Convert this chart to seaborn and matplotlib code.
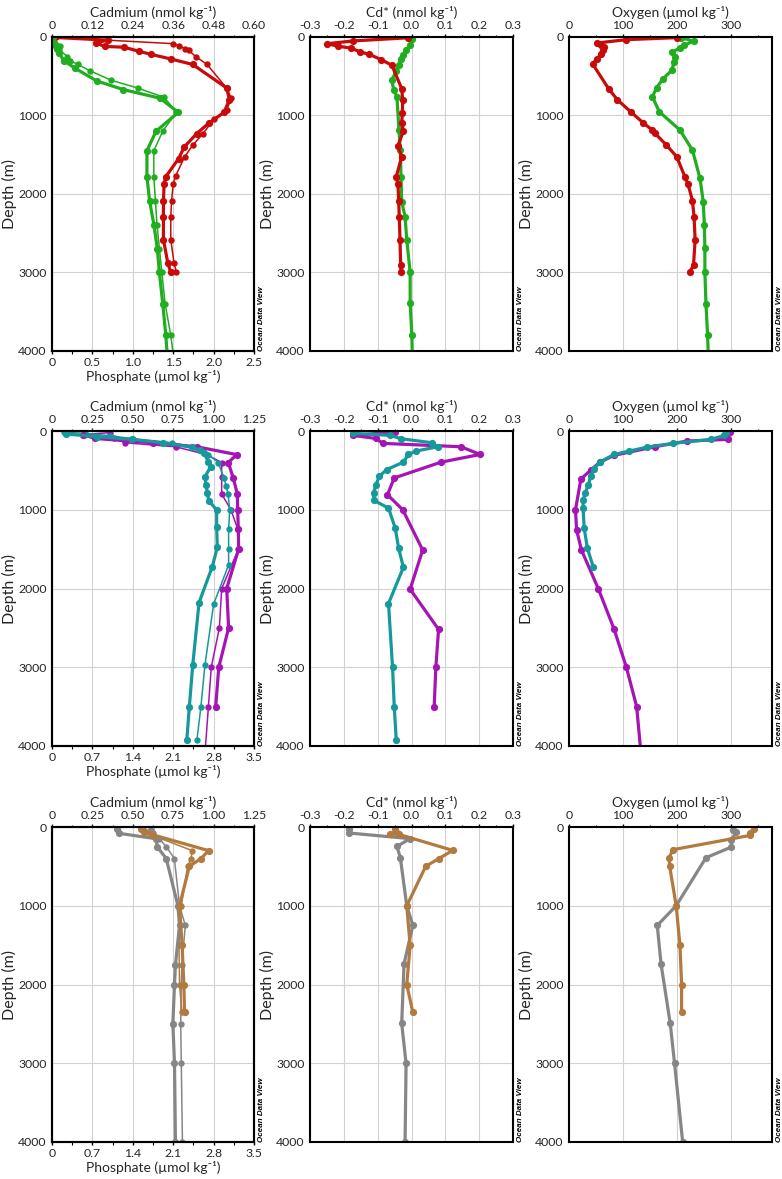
import matplotlib
matplotlib.use("Agg")
import matplotlib.pyplot as plt
import seaborn as sns
from matplotlib.ticker import FixedLocator, MultipleLocator

# ---------------- DATA ----------------
# Row 1 : red and green stations
r1_red_cd_depth = [5, 40, 75, 120, 130, 180, 220, 280, 350, 650, 800, 960, 1100, 1230, 1400, 1550, 1780, 1870, 2090, 2290, 2580, 2880, 3000]
r1_red_cd = [0.005, 0.165, 0.131, 0.156, 0.214, 0.257, 0.293, 0.353, 0.418, 0.519, 0.527, 0.511, 0.465, 0.430, 0.393, 0.376, 0.338, 0.333, 0.331, 0.331, 0.331, 0.344, 0.353]
r1_red_po4_depth = [5, 85, 110, 150, 170, 250, 350, 650, 780, 930, 1050, 1230, 1380, 1530, 1770, 1870, 2090, 2290, 2580, 2880, 3000]
r1_red_po4 = [0.05, 1.50, 1.57, 1.65, 1.69, 1.78, 1.92, 2.16, 2.22, 2.16, 2.00, 1.87, 1.74, 1.64, 1.53, 1.50, 1.48, 1.47, 1.47, 1.51, 1.54]
r1_green_cd_depth = [0, 100, 150, 200, 300, 400, 560, 670, 780, 960, 1200, 1450, 1780, 2090, 2400, 2700, 3000, 3400, 3800, 4200]
r1_green_cd = [0.003, 0.010, 0.015, 0.020, 0.035, 0.069, 0.133, 0.212, 0.321, 0.375, 0.309, 0.282, 0.282, 0.290, 0.303, 0.313, 0.319, 0.329, 0.338, 0.345]
r1_green_po4_depth = [0, 120, 160, 250, 300, 350, 430, 550, 650, 770, 960, 1200, 1450, 1780, 2090, 2400, 2700, 3000, 3400, 3800, 4200]
r1_green_po4 = [0.02, 0.10, 0.09, 0.19, 0.22, 0.32, 0.47, 0.73, 1.06, 1.39, 1.54, 1.37, 1.26, 1.26, 1.28, 1.30, 1.33, 1.36, 1.40, 1.47, 1.52]

r1_red_cdstar_depth = [10, 50, 85, 119, 140, 190, 220, 288, 360, 657, 797, 966, 1093, 1199, 1386, 1525, 1780, 1877, 2085, 2297, 2585, 2903, 3000]
r1_red_cdstar = [-0.010, -0.172, -0.249, -0.216, -0.179, -0.152, -0.125, -0.090, -0.058, -0.029, -0.026, -0.027, -0.029, -0.024, -0.040, -0.029, -0.045, -0.040, -0.038, -0.036, -0.034, -0.032, -0.031]
r1_green_cdstar_depth = [21, 106, 169, 233, 275, 360, 436, 551, 669, 763, 1186, 1441, 1780, 2097, 2288, 2585, 3000, 3390, 3792, 4200]
r1_green_cdstar = [0.001, -0.004, -0.017, -0.024, -0.031, -0.038, -0.046, -0.058, -0.053, -0.043, -0.037, -0.033, -0.031, -0.029, -0.019, -0.014, -0.004, -0.004, 0.001, 0.003]

r1_red_o2_depth = [8, 34, 76, 106, 127, 170, 220, 275, 347, 657, 797, 953, 1093, 1186, 1229, 1377, 1525, 1780, 1877, 2085, 2288, 2585, 2903, 3000]
r1_red_o2 = [200, 106, 52, 60, 64, 62, 60, 51, 44, 73, 89, 114, 137, 154, 159, 180, 199, 214, 220, 228, 231, 233, 230, 223]
r1_green_o2_depth = [8, 51, 106, 140, 191, 250, 318, 424, 530, 644, 763, 953, 1186, 1441, 1801, 2097, 2394, 2691, 3000, 3398, 3792, 4200]
r1_green_o2 = [206, 230, 213, 205, 191, 195, 194, 190, 174, 162, 154, 167, 205, 228, 242, 248, 250, 251, 251, 253, 256, 258]

# Row 2 : teal and magenta stations
r2_teal_cd_depth = [38, 72, 106, 148, 207, 241, 284, 389, 453, 580, 685, 791, 884, 1003, 1223, 1477, 1722, 2179, 2970, 3500, 3930]
r2_teal_cd = [0.086, 0.278, 0.494, 0.686, 0.865, 0.916, 0.941, 0.968, 0.982, 0.947, 0.953, 0.962, 0.970, 1.019, 1.019, 1.023, 0.992, 0.910, 0.871, 0.850, 0.834]
r2_teal_po4_depth = [15, 30, 60, 100, 150, 200, 300, 400, 600, 700, 800, 1000, 1250, 1500, 1700, 2200, 2970, 3500, 3930]
r2_teal_po4 = [0.20, 0.58, 1.01, 1.41, 2.08, 2.45, 2.71, 2.88, 2.98, 3.02, 3.05, 3.08, 3.06, 3.06, 3.06, 2.80, 2.65, 2.58, 2.51]
r2_mag_cd_depth = [45, 95, 150, 200, 300, 400, 600, 800, 1000, 1250, 1500, 2000, 2500, 3000, 3500]
r2_mag_cd = [0.191, 0.268, 0.628, 0.896, 1.143, 1.091, 1.122, 1.147, 1.149, 1.153, 1.155, 1.081, 1.093, 1.032, 1.013]
r2_mag_po4_depth = [20, 45, 95, 150, 200, 300, 400, 580, 800, 1000, 1250, 1500, 2000, 2500, 3000, 3500, 4100]
r2_mag_po4 = [1.01, 0.55, 1.07, 1.27, 2.14, 2.68, 2.94, 2.94, 2.94, 3.10, 3.22, 3.23, 2.94, 2.90, 2.76, 2.71, 2.65]

r2_teal_cdstar_depth = [30, 55, 98, 149, 200, 255, 298, 396, 489, 574, 681, 787, 881, 979, 1234, 1489, 1732, 2191, 3000, 3500, 3930]
r2_teal_cdstar = [-0.172, -0.063, -0.031, 0.060, 0.078, 0.013, -0.009, -0.024, -0.073, -0.095, -0.105, -0.112, -0.111, -0.068, -0.048, -0.038, -0.024, -0.068, -0.056, -0.051, -0.045]
r2_mag_cdstar_depth = [13, 55, 95, 157, 200, 298, 396, 596, 809, 1000, 1511, 2009, 2519, 3000, 3500]
r2_mag_cdstar = [-0.048, -0.174, -0.105, -0.085, 0.146, 0.203, 0.087, -0.051, -0.071, -0.026, 0.033, -0.004, 0.080, 0.072, 0.067]

r2_teal_o2_depth = [20, 55, 106, 157, 204, 255, 298, 396, 481, 574, 681, 787, 881, 979, 1234, 1489, 1732]
r2_teal_o2 = [290, 287, 263, 192, 145, 111, 83, 57, 46, 40, 36, 30, 26, 26, 28, 34, 45]
r2_mag_o2_depth = [13, 106, 128, 200, 310, 396, 498, 609, 1000, 1255, 1511, 2000, 2511, 3000, 3500, 4100]
r2_mag_o2 = [297, 294, 218, 158, 83, 57, 40, 22, 12, 14, 23, 54, 83, 106, 125, 133]

# Row 3 : brown and grey stations
r3_brown_cd_depth = [20, 60, 100, 300, 400, 500, 1000, 1500, 2000, 2350]
r3_brown_cd = [0.553, 0.567, 0.625, 0.969, 0.922, 0.850, 0.789, 0.805, 0.816, 0.820]
r3_brown_po4_depth = [20, 60, 100, 300, 400, 500, 1000, 1500, 2000, 2350]
r3_brown_po4 = [1.58, 1.64, 1.72, 2.43, 2.41, 2.35, 2.24, 2.20, 2.21, 2.25]
r3_grey_cd_depth = [20, 80, 150, 250, 400, 1000, 1250, 1750, 2000, 2500, 3000, 4000]
r3_grey_cd = [0.400, 0.414, 0.646, 0.650, 0.707, 0.779, 0.789, 0.764, 0.758, 0.748, 0.758, 0.764]
r3_grey_po4_depth = [20, 80, 150, 250, 400, 1000, 1250, 1750, 2000, 2500, 3000, 4000]
r3_grey_po4 = [1.72, 1.75, 1.86, 1.98, 2.12, 2.21, 2.31, 2.25, 2.24, 2.23, 2.24, 2.26]

r3_grey_cdstar_depth = [21, 76, 148, 246, 390, 1000, 1250, 1737, 2494, 3003, 4000]
r3_grey_cdstar = [-0.184, -0.185, -0.004, -0.043, -0.033, -0.014, 0.004, -0.022, -0.029, -0.016, -0.019]
r3_brown_cdstar_depth = [21, 64, 85, 93, 297, 403, 500, 1000, 1504, 2000, 2354]
r3_brown_cdstar = [-0.048, -0.045, -0.063, -0.038, 0.122, 0.080, 0.042, -0.014, -0.004, -0.014, 0.004]

r3_brown_o2_depth = [21, 76, 106, 288, 390, 500, 1000, 1504, 2000, 2354]
r3_brown_o2 = [341, 334, 335, 192, 185, 186, 198, 205, 208, 208]
r3_grey_o2_depth = [34, 64, 161, 254, 390, 1000, 1250, 1737, 2494, 3003, 4000]
r3_grey_o2 = [303, 309, 300, 300, 253, 198, 163, 170, 187, 195, 210]

# axis tick labels
cd_ticks_r1 = [0, 0.12, 0.24, 0.36, 0.48, 0.60]
cd_labels_r1 = ["0", "0.12", "0.24", "0.36", "0.48", "0.60"]
po4_ticks_r1 = [0, 0.5, 1.0, 1.5, 2.0, 2.5]
po4_labels_r1 = ["0", "0.5", "1.0", "1.5", "2.0", "2.5"]
cd_ticks_r23 = [0, 0.25, 0.5, 0.75, 1.0, 1.25]
cd_labels_r23 = ["0", "0.25", "0.50", "0.75", "1.00", "1.25"]
po4_ticks_r23 = [0, 0.7, 1.4, 2.1, 2.8, 3.5]
po4_labels_r23 = ["0", "0.7", "1.4", "2.1", "2.8", "3.5"]
cdstar_ticks = [-0.3, -0.2, -0.1, 0.0, 0.1, 0.2, 0.3]
cdstar_labels = ["-0.3", "-0.2", "-0.1", "0.0", "0.1", "0.2", "0.3"]
o2_ticks = [0, 100, 200, 300]
o2_labels = ["0", "100", "200", "300"]
depth_ticks = [0, 1000, 2000, 3000, 4000]

# ---------------- STYLE ----------------
sns.set_theme(style="white")
plt.rcParams["font.family"] = ["Lato", "DejaVu Sans"]
plt.rcParams["axes.unicode_minus"] = False

RED = "#c80a0a"
GREEN = "#20ad20"
TEAL = "#15999b"
MAG = "#a614b4"
BROWN = "#b27a3e"
GREY = "#868686"

W, H = 782, 1179
fig = plt.figure(figsize=(W / 100, H / 100), dpi=100)

cols = [(52, 254), (310, 513), (569, 772)]
rows = [(37, 351), (431, 746), (827, 1142)]

TICK_FS = 8.8
LAB_FS = 10
DEP_FS = 11.5
THICK = 2.3
THIN = 1.1
TPAD = 1.5
TLEN = 2.5


def make_ax(c, r):
    x0, x1 = cols[c]
    y0, y1 = rows[r]
    return fig.add_axes([x0 / W, 1 - y1 / H, (x1 - x0) / W, (y1 - y0) / H])


def style_depth(ax, xlim, ticks, labels):
    ax.set_xlim(*xlim)
    ax.set_ylim(4000, 0)
    ax.yaxis.set_major_locator(FixedLocator(depth_ticks))
    ax.yaxis.set_minor_locator(MultipleLocator(500))
    ax.set_xticks(ticks)
    ax.set_xticklabels(labels)
    ax.grid(True, which="major", color="#d2d2d2", lw=0.8)
    ax.set_axisbelow(True)
    ax.tick_params(axis="both", which="major", labelsize=TICK_FS, length=TLEN, width=1,
                   direction="out", color="black", pad=TPAD)
    ax.tick_params(axis="both", which="minor", length=1.8, width=0.8, direction="out", color="black")
    for s in ax.spines.values():
        s.set_linewidth(1.5)
        s.set_color("black")


def profile(ax, x, y, color, lw, ms):
    sns.lineplot(x=x, y=y, ax=ax, sort=False, estimator=None, orient="y",
                 color=color, linewidth=lw, marker="o", markersize=ms,
                 markeredgewidth=0, legend=False)


def odv(c, r):
    x1 = cols[c][1]
    y1 = rows[r][1]
    fig.text((x1 + 4) / W, 1 - y1 / H, "Ocean Data View", rotation=90,
             fontsize=5.8, style="italic", weight="bold", family="Liberation Sans",
             ha="left", va="bottom", color="black")


def top_only(ax, label, minor):
    ax.xaxis.tick_top()
    ax.xaxis.set_label_position("top")
    ax.set_xlabel(label, fontsize=LAB_FS, labelpad=2.5)
    ax.tick_params(axis="x", which="both", bottom=False, labelbottom=False, top=True, labeltop=True)
    ax.xaxis.set_minor_locator(MultipleLocator(minor))


cd_label = "Cadmium (nmol kg\u207b\u00b9)"
po4_label = "Phosphate (\u00b5mol kg\u207b\u00b9)"
cdstar_label = "Cd* (nmol kg\u207b\u00b9)"
o2_label = "Oxygen (\u00b5mol kg\u207b\u00b9)"

row_sets = [
    dict(cdt=(cd_ticks_r1, cd_labels_r1, 0.6), pt=(po4_ticks_r1, po4_labels_r1, 2.5),
         cd=[(r1_red_cd, r1_red_cd_depth, RED), (r1_green_cd, r1_green_cd_depth, GREEN)],
         po4=[(r1_red_po4, r1_red_po4_depth, RED), (r1_green_po4, r1_green_po4_depth, GREEN)],
         cds=[(r1_green_cdstar, r1_green_cdstar_depth, GREEN), (r1_red_cdstar, r1_red_cdstar_depth, RED)],
         o2=[(r1_green_o2, r1_green_o2_depth, GREEN), (r1_red_o2, r1_red_o2_depth, RED)]),
    dict(cdt=(cd_ticks_r23, cd_labels_r23, 1.25), pt=(po4_ticks_r23, po4_labels_r23, 3.5),
         cd=[(r2_mag_cd, r2_mag_cd_depth, MAG), (r2_teal_cd, r2_teal_cd_depth, TEAL)],
         po4=[(r2_mag_po4, r2_mag_po4_depth, MAG), (r2_teal_po4, r2_teal_po4_depth, TEAL)],
         cds=[(r2_mag_cdstar, r2_mag_cdstar_depth, MAG), (r2_teal_cdstar, r2_teal_cdstar_depth, TEAL)],
         o2=[(r2_mag_o2, r2_mag_o2_depth, MAG), (r2_teal_o2, r2_teal_o2_depth, TEAL)]),
    dict(cdt=(cd_ticks_r23, cd_labels_r23, 1.25), pt=(po4_ticks_r23, po4_labels_r23, 3.5),
         cd=[(r3_grey_cd, r3_grey_cd_depth, GREY), (r3_brown_cd, r3_brown_cd_depth, BROWN)],
         po4=[(r3_grey_po4, r3_grey_po4_depth, GREY), (r3_brown_po4, r3_brown_po4_depth, BROWN)],
         cds=[(r3_grey_cdstar, r3_grey_cdstar_depth, GREY), (r3_brown_cdstar, r3_brown_cdstar_depth, BROWN)],
         o2=[(r3_grey_o2, r3_grey_o2_depth, GREY), (r3_brown_o2, r3_brown_o2_depth, BROWN)]),
]

for r, rs in enumerate(row_sets):
    # ---- left: Cd (top axis) + phosphate (bottom axis)
    ax = make_ax(0, r)
    pt, pl, pmax = rs["pt"]
    style_depth(ax, (0, pmax), pt, pl)
    ax.xaxis.set_minor_locator(MultipleLocator(pmax / 10))
    for x, y, c in rs["po4"]:
        profile(ax, x, y, c, THIN, 4.6)
    ax.set_ylim(4000, 0)
    ax.set_xlabel(po4_label, fontsize=LAB_FS, labelpad=1.5)
    ax.set_ylabel("Depth (m)", fontsize=DEP_FS, labelpad=1)
    ax2 = ax.twiny()
    ct, cl, cmax = rs["cdt"]
    ax2.set_xlim(0, cmax)
    ax2.set_xticks(ct)
    ax2.set_xticklabels(cl)
    ax2.xaxis.set_minor_locator(MultipleLocator(cmax / 10))
    ax2.tick_params(axis="x", which="major", labelsize=TICK_FS, length=TLEN, width=1,
                    direction="out", pad=TPAD)
    ax2.tick_params(axis="x", which="minor", length=1.8, width=0.8, direction="out")
    ax2.grid(False)
    for s in ax2.spines.values():
        s.set_linewidth(1.5)
        s.set_color("black")
    for x, y, c in rs["cd"]:
        profile(ax2, x, y, c, THICK, 5.2)
    ax2.set_ylim(4000, 0)
    ax2.set_xlabel(cd_label, fontsize=LAB_FS, labelpad=2.5)
    ax2.set_ylabel("")
    odv(0, r)

    # ---- middle: Cd*
    axm = make_ax(1, r)
    style_depth(axm, (-0.3, 0.3), cdstar_ticks, cdstar_labels)
    for x, y, c in rs["cds"]:
        profile(axm, x, y, c, THICK, 5.2)
    axm.set_ylim(4000, 0)
    top_only(axm, cdstar_label, 0.05)
    axm.set_ylabel("Depth (m)", fontsize=DEP_FS, labelpad=1)
    odv(1, r)

    # ---- right: Oxygen
    axr = make_ax(2, r)
    style_depth(axr, (0, 375), o2_ticks, o2_labels)
    for x, y, c in rs["o2"]:
        profile(axr, x, y, c, THICK, 5.2)
    axr.set_ylim(4000, 0)
    top_only(axr, o2_label, 50)
    axr.set_ylabel("Depth (m)", fontsize=DEP_FS, labelpad=1)
    odv(2, r)

fig.savefig("out.png", dpi=100)
